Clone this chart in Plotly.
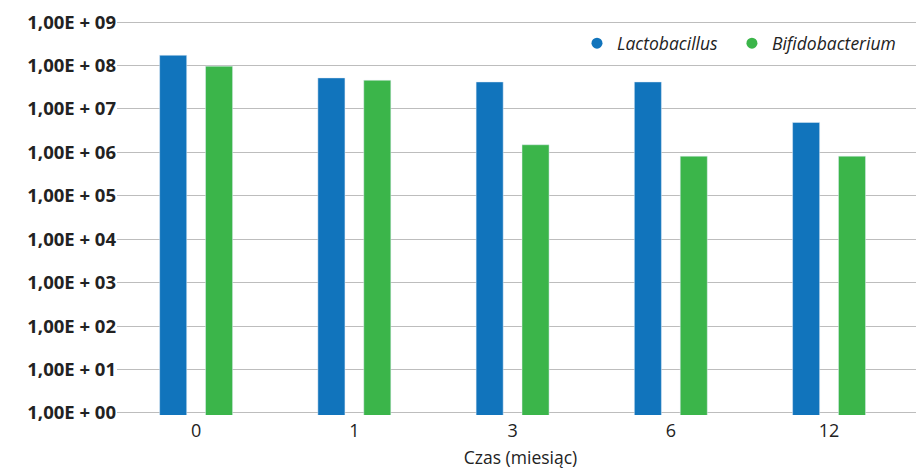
import plotly.graph_objects as go

months = ["0", "1", "3", "6", "12"]
lactobacillus = [1.73e8, 5.2e7, 4.2e7, 4.2e7, 4.9e6]
bifidobacterium = [9.7e7, 4.6e7, 1.5e6, 8.2e5, 8.2e5]
y_tick_vals = [1e0, 1e1, 1e2, 1e3, 1e4, 1e5, 1e6, 1e7, 1e8, 1e9]
y_tick_text = ["1,00E + 00", "1,00E + 01", "1,00E + 02", "1,00E + 03", "1,00E + 04",
               "1,00E + 05", "1,00E + 06", "1,00E + 07", "1,00E + 08", "1,00E + 09"]

BLUE = "#1174bc"
GREEN = "#3bb54a"
FONT = "Open Sans"
TEXT = "#222222"

fig = go.Figure()
fig.add_trace(go.Bar(x=months, y=lactobacillus, name="Lactobacillus",
                     marker_color=BLUE, showlegend=False))
fig.add_trace(go.Bar(x=months, y=bifidobacterium, name="Bifidobacterium",
                     marker_color=GREEN, showlegend=False))
fig.add_trace(go.Scatter(x=[None], y=[None], mode="markers", name="<i>Lactobacillus</i>",
                         marker=dict(color=BLUE, size=11, symbol="circle"), legend="legend"))
fig.add_trace(go.Scatter(x=[None], y=[None], mode="markers", name="<i>Bifidobacterium</i>",
                         marker=dict(color=GREEN, size=11, symbol="circle"), legend="legend2"))

legend_common = dict(orientation="h", y=0.941, xanchor="left", yanchor="middle",
                     font=dict(family=FONT, size=17.5, color=TEXT),
                     bgcolor="rgba(0,0,0,0)", itemwidth=30)

fig.update_layout(
    width=916, height=461,
    margin=dict(l=109, r=0, t=12, b=54),
    paper_bgcolor="white", plot_bgcolor="white",
    barmode="group", bargap=0.42, bargroupgap=0.41,
    font=dict(family=FONT, color=TEXT, size=14),
    legend=dict(x=0.570, **legend_common),
    legend2=dict(x=0.762, **legend_common),
)
fig.update_xaxes(
    type="category", range=[-0.5, 4.6], automargin=False,
    showgrid=False, showline=False, ticks="",
    ticklabelstandoff=3,
    tickfont=dict(family=FONT, size=18, color=TEXT),
    title=dict(text="Czas (miesiąc)", font=dict(family=FONT, size=17.5, color=TEXT), standoff=20),
)
fig.update_yaxes(
    type="log", range=[-0.05, 9.05], automargin=False,
    tickvals=y_tick_vals, ticktext=y_tick_text,
    showgrid=True, gridcolor="#bdbdbd", gridwidth=1.4,
    zeroline=False, showline=False, ticks="", ticklen=0,
    tickfont=dict(family=FONT, size=18.5, color=TEXT, weight="bold"),
)

fig.write_html("out.html")
